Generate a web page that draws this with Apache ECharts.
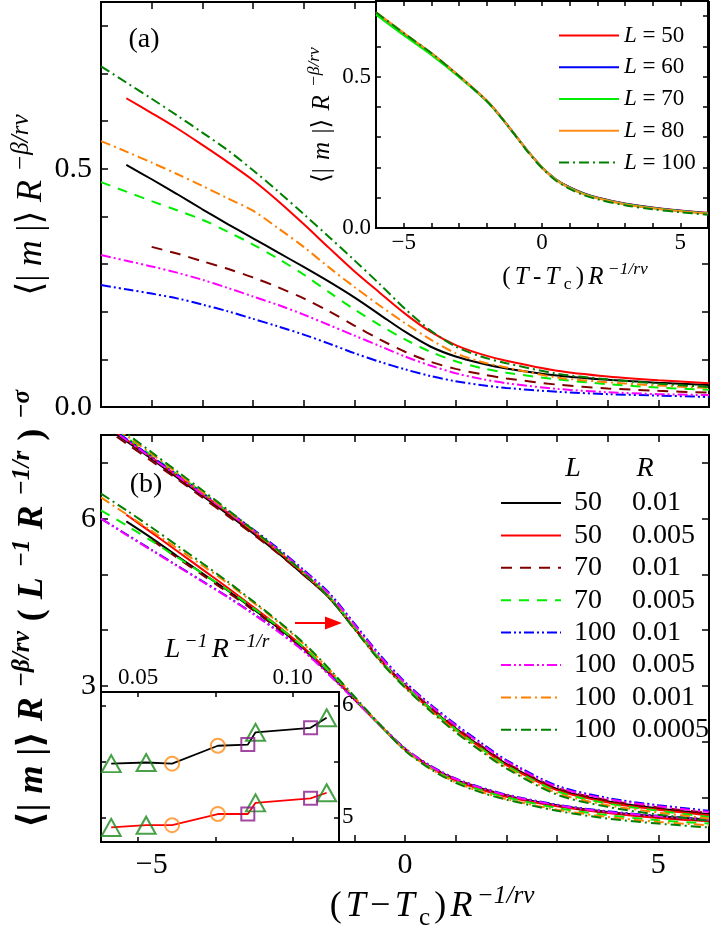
<!DOCTYPE html>
<html><head><meta charset="utf-8">
<script src="https://cdn.jsdelivr.net/npm/echarts@6/dist/echarts.min.js"></script>
<style>html,body{margin:0;padding:0;background:#fff}#c{width:713px;height:934px}</style>
</head><body><div id="c"></div>
<script>
// ---------- data ----------
const xsA = [-6,-5.5,-5,-4.5,-4,-3.5,-3,-2.5,-2,-1.5,-1,-0.5,0,0.5,1,1.5,2,3,4,5,6];
// panel (a)
const aBlack   = [null,0.508,0.478,0.447,0.415,0.384,0.354,0.324,0.294,0.263,0.230,0.194,0.158,0.127,0.106,0.092,0.081,0.066,0.057,0.051,0.046];
const aRed     = [null,0.648,0.617,0.585,0.550,0.514,0.476,0.432,0.384,0.334,0.285,0.240,0.196,0.158,0.130,0.111,0.097,0.076,0.064,0.056,0.050];
const aBrown   = [null,null,0.336,0.322,0.306,0.290,0.272,0.251,0.228,0.201,0.171,0.142,0.116,0.095,0.080,0.069,0.060,0.047,0.039,0.034,0.030];
const aGreen   = [0.472,0.452,0.432,0.413,0.393,0.368,0.341,0.311,0.278,0.241,0.205,0.172,0.142,0.116,0.096,0.082,0.072,0.058,0.048,0.041,0.036];
const aBlue    = [0.256,0.247,0.238,0.228,0.215,0.201,0.185,0.169,0.152,0.133,0.113,0.095,0.079,0.065,0.054,0.046,0.040,0.032,0.027,0.024,0.021];
const aMagenta = [0.319,0.307,0.295,0.282,0.267,0.250,0.232,0.214,0.194,0.172,0.150,0.128,0.106,0.087,0.071,0.059,0.050,0.038,0.031,0.027,0.025];
const aOrange  = [0.558,0.536,0.513,0.489,0.464,0.438,0.412,0.375,0.336,0.293,0.252,0.213,0.176,0.142,0.113,0.095,0.083,0.062,0.052,0.045,0.040];
const aDkgreen = [0.715,0.681,0.647,0.612,0.576,0.539,0.497,0.452,0.405,0.357,0.308,0.258,0.206,0.161,0.127,0.106,0.092,0.070,0.058,0.049,0.042];
// inset of (a)
const xsI = [-6,-5,-4,-3,-2,-1.5,-1,-0.5,0,0.5,1,1.5,2,3,4,5,6];
const iL50  = [0.712,0.643,0.577,0.502,0.421,0.369,0.311,0.253,0.201,0.161,0.135,0.115,0.101,0.081,0.068,0.058,0.050];
const iL60  = [0.711,0.642,0.576,0.501,0.420,0.368,0.310,0.252,0.200,0.160,0.134,0.114,0.100,0.080,0.067,0.057,0.049];
const iL70  = [0.705,0.637,0.572,0.499,0.419,0.368,0.310,0.252,0.200,0.160,0.133,0.113,0.099,0.079,0.066,0.056,0.048];
const iL80  = [0.713,0.645,0.578,0.503,0.421,0.369,0.311,0.252,0.200,0.159,0.132,0.112,0.098,0.078,0.065,0.055,0.047];
const iL100 = [0.713,0.644,0.578,0.502,0.420,0.368,0.310,0.250,0.198,0.157,0.129,0.109,0.095,0.075,0.062,0.052,0.044];
const insetALabels = ['L = 50','L = 60','L = 70','L = 80','L = 100'];
// panel (b) lower family
const bLoBlack   = [null,5.95,5.65,5.33,5.02,4.71,4.38,4.04,3.67,3.23,2.76,2.30,1.86,1.55,1.32,1.16,1.03,0.86,0.74,0.66,0.60];
const bLoRed     = [null,6.07,5.75,5.42,5.09,4.76,4.42,4.07,3.69,3.25,2.77,2.30,1.86,1.54,1.30,1.14,1.01,0.84,0.72,0.63,0.57];
const bLoBrown   = [null,null,5.62,5.30,4.99,4.68,4.36,4.02,3.65,3.22,2.76,2.31,1.87,1.56,1.33,1.17,1.04,0.85,0.73,0.65,0.58];
const bLoGreen   = [6.15,5.88,5.60,5.31,5.02,4.72,4.40,4.06,3.69,3.26,2.78,2.30,1.85,1.53,1.29,1.13,1.00,0.81,0.68,0.59,0.53];
const bLoBlue    = [6.00,5.72,5.44,5.16,4.88,4.60,4.30,3.98,3.63,3.21,2.76,2.31,1.88,1.57,1.34,1.18,1.05,0.87,0.75,0.67,0.61];
const bLoMagenta = [6.00,5.71,5.43,5.15,4.87,4.59,4.29,3.97,3.62,3.20,2.75,2.30,1.87,1.56,1.33,1.17,1.04,0.86,0.74,0.66,0.60];
const bLoOrange  = [6.38,6.08,5.78,5.47,5.16,4.84,4.50,4.14,3.75,3.30,2.80,2.31,1.85,1.52,1.27,1.10,0.97,0.78,0.65,0.56,0.50];
const bLoDkgreen = [6.45,6.15,5.84,5.52,5.20,4.87,4.52,4.16,3.77,3.31,2.81,2.31,1.84,1.51,1.26,1.09,0.96,0.76,0.62,0.53,0.46];
// panel (b) upper (shifted) family
const bUpBlack   = [7.70,7.39,7.07,6.74,6.41,6.08,5.74,5.38,4.99,4.58,4.03,3.47,3.00,2.60,2.24,1.91,1.60,1.15,0.93,0.80,0.70];
const bUpRed     = [7.74,7.42,7.10,6.77,6.44,6.11,5.77,5.41,5.02,4.60,4.04,3.47,2.99,2.58,2.22,1.89,1.58,1.13,0.91,0.78,0.68];
const bUpBrown   = [7.66,7.35,7.03,6.71,6.38,6.05,5.72,5.37,4.99,4.59,4.05,3.49,3.02,2.62,2.26,1.93,1.62,1.17,0.95,0.82,0.72];
const bUpGreen   = [7.78,7.46,7.13,6.80,6.47,6.13,5.79,5.42,5.03,4.61,4.05,3.48,3.00,2.59,2.22,1.88,1.57,1.11,0.89,0.76,0.65];
const bUpBlue    = [7.75,7.43,7.11,6.79,6.46,6.14,5.81,5.46,5.08,4.67,4.12,3.56,3.07,2.67,2.31,1.98,1.67,1.21,0.99,0.86,0.76];
const bUpMagenta = [7.73,7.41,7.09,6.77,6.44,6.12,5.79,5.44,5.06,4.65,4.10,3.54,3.05,2.65,2.29,1.96,1.65,1.19,0.97,0.84,0.74];
const bUpOrange  = [7.82,7.49,7.16,6.82,6.48,6.14,5.79,5.42,5.02,4.59,4.03,3.46,2.98,2.56,2.19,1.85,1.54,1.08,0.86,0.73,0.62];
const bUpDkgreen = [7.86,7.53,7.19,6.85,6.51,6.16,5.80,5.43,5.03,4.59,4.02,3.45,2.97,2.55,2.17,1.83,1.52,1.05,0.83,0.69,0.58];
const legendL = ['50','50','70','70','100','100','100','100'];
const legendR = ['0.01','0.005','0.01','0.005','0.01','0.005','0.001','0.0005'];
// inset of (b)
const insetX     = [0.0413,0.0526,0.0610,0.0758,0.0855,0.0880,0.1058,0.1110];
const insetBlack = [5.48,5.49,5.48,5.64,5.65,5.76,5.80,5.89];
const insetRed   = [4.91,4.93,4.93,5.03,5.03,5.13,5.17,5.22];
const insetShape = ['triangle','triangle','circle','circle','rect','triangle','rect','triangle'];
// tick values / labels
const fullTicks = [-6,-5,-4,-3,-2,-1,0,1,2,3,4,5,6];
const xLabels = [-5,0,5];
const aYTicks = [0,0.1,0.2,0.3,0.4,0.5,0.6,0.7,0.8];
const aYLabels = [0,0.5];
const iaYTicks = [0,0.1,0.2,0.3,0.4,0.5,0.6,0.7];
const bYTicks = [1,2,3,4,5,6,7];
const bYLabels = [3,6];
const ibXTicks = [0.05,0.075,0.10];
const ibXLabels = [0.05,0.10];
const ibYTicks = [5,5.5,6];
const ibYLabels = [5,6];

// ---------- styles ----------
const SERIF = '"Liberation Serif","DejaVu Serif",serif';
const ST = [
  {c:'#000000', t:'solid'},
  {c:'#ff0000', t:'solid'},
  {c:'#800000', t:[11,8]},
  {c:'#00ee00', t:[10,8]},
  {c:'#0000ff', t:[10,3,2,3,2,3]},
  {c:'#ff00ff', t:[10,3,2,3,2,3]},
  {c:'#ff8000', t:[10,4,2,4]},
  {c:'#008000', t:[10,4,2,4]}
];
const MK = {triangle:'#1a8a1a', circle:'#ff8c1a', rect:'#8b1a8b'};

function pairs(xs, ys){ return xs.map((x,i)=>[x, ys[i]]).filter(p=>p[1]!=null); }
const minus = v => v<0 ? '\u2212'+Math.abs(v) : String(v);

function ax(gridIndex, position, min, max, ticks, labels, fmt, fs, tl, margin, z){
  return {
    type:'value', gridIndex, position, min, max, z,
    axisLine:{show:true, onZero:false, lineStyle:{color:'#000', width:2}},
    axisTick:{show:true, inside:true, length:tl, customValues:ticks, lineStyle:{color:'#000', width:1.5}},
    axisLabel: labels ? {show:true, customValues:labels, formatter:fmt, fontSize:fs, fontFamily:SERIF, color:'#000', margin} : {show:false},
    splitLine:{show:false}
  };
}
function line(name, xi, yi, xs, ys, s, z, w){
  return {type:'line', name, xAxisIndex:xi, yAxisIndex:yi, data:pairs(xs,ys), showSymbol:false, symbol:'none',
    smooth:0.3, z, lineStyle:{color:s.c, type:s.t, width:w||2}, itemStyle:{color:s.c}, animation:false};
}

const series = [];
const aSets = [aBlack,aRed,aBrown,aGreen,aBlue,aMagenta,aOrange,aDkgreen];
aSets.forEach((d,k)=>series.push(line('a'+k,0,0,xsA,d,ST[k],2)));
const iSets = [iL50,iL60,iL70,iL80,iL100];
const iStyle = [{c:'#ff0000',t:'solid'},{c:'#0000ff',t:'solid'},{c:'#00ee00',t:'solid'},{c:'#ff8c1a',t:'solid'},{c:'#008000',t:[10,4,2,4]}];
iSets.forEach((d,k)=>series.push(line(insetALabels[k],2,2,xsI,d,iStyle[k],5,2)));
const loSets = [bLoBlack,bLoRed,bLoBrown,bLoGreen,bLoBlue,bLoMagenta,bLoOrange,bLoDkgreen];
const upSets = [bUpBlack,bUpRed,bUpBrown,bUpGreen,bUpBlue,bUpMagenta,bUpOrange,bUpDkgreen];
loSets.forEach((d,k)=>series.push(line(legendL[k]+' '+legendR[k],4,4,xsA,d,ST[k],2)));
upSets.forEach((d,k)=>series.push(line('up'+k,4,4,xsA,d,ST[k],2)));
const ibB = line('ib-black',6,6,insetX,insetBlack,{c:'#000',t:'solid'},5,1.8); ibB.smooth=false; series.push(ibB);
const ibR = line('ib-red',6,6,insetX,insetRed,{c:'#ff0000',t:'solid'},5,1.8); ibR.smooth=false; series.push(ibR);
['triangle','circle','rect'].forEach(sh=>{
  const pts = [];
  insetX.forEach((x,i)=>{ if(insetShape[i]===sh){ pts.push([x,insetBlack[i]]); pts.push([x,insetRed[i]]); } });
  series.push({type:'scatter', name:'m-'+sh, xAxisIndex:6, yAxisIndex:6, data:pts, symbol:sh,
    symbolSize: sh==='triangle'?[19,17]:(sh==='circle'?14:13), z:6, animation:false,
    itemStyle:{color:'rgba(255,255,255,0)', borderColor:MK[sh], borderWidth:2}});
});

// ---------- titles: fit rich text to a target length ----------
const mctx = document.createElement('canvas').getContext('2d');
const SUP = 0.7;
function tokW(t, fs, bold){
  const st = t[0]; const size = (st==='sup'||st==='sub') ? fs*SUP : fs;
  const it = (st==='i'||st==='sup') ? 'italic ' : '';
  mctx.font = it + (bold?'bold ':'') + size + 'px ' + SERIF;
  return mctx.measureText(t[1]).width;
}
function title(x, y, tokens, target, maxFs, opts){
  opts = opts||{};
  const bold = !!opts.bold, base = 20;
  const W = tokens.reduce((s,t)=>s+tokW(t,base,bold),0);
  const fs = Math.min(maxFs, base*target/W);
  const pad = Math.max(0, (target - W*fs/base)/(2*tokens.length));
  const fw = bold?'bold':'normal', lh = fs*1.3, sfs = fs*SUP;
  const P = [0,pad,0,pad];
  const rich = {
    p:{fontSize:fs, fontFamily:SERIF, fontWeight:fw, color:'#000', lineHeight:lh, padding:P},
    i:{fontSize:fs, fontFamily:SERIF, fontStyle:'italic', fontWeight:fw, color:'#000', lineHeight:lh, padding:P},
    sup:{fontSize:sfs, fontFamily:SERIF, fontStyle:'italic', fontWeight:fw, color:'#000', verticalAlign:'top', lineHeight:lh, padding:P},
    sub:{fontSize:sfs, fontFamily:SERIF, fontWeight:fw, color:'#000', verticalAlign:'bottom', lineHeight:lh, padding:P}
  };
  const text = tokens.map(t=>'{'+t[0]+'|'+t[1]+'}').join('');
  return {type:'text', x, y, rotation: opts.rot||0, z:20, silent:true,
    style:{text, rich, fontSize:fs, fontFamily:SERIF, fill:'#000', align:'center', verticalAlign:'middle'}};
}
function plain(x,y,text,fs,italic){
  return {type:'text', x, y, z:20, silent:true,
    style:{text, fontSize:fs, fontFamily:SERIF, fontStyle: italic?'italic':'normal', fill:'#000', align:'center', verticalAlign:'middle'}};
}
const mTok = [['p','\u27E8|'],['i','m'],['p','|\u27E9'],['i','R'],['sup','\u2212\u03B2/r\u03BD']];
const bTok = mTok.concat([['p','('],['i','L'],['sup','\u22121'],['i','R'],['sup','\u22121/r'],['p',')'],['sup','\u2212\u03C3']]);
const xTok = [['p','('],['i','T'],['p','\u2212'],['i','T'],['sub','c'],['p',')'],['i','R'],['sup','\u22121/r\u03BD']];
const xTokI = [['p','('],['i','T'],['p','-'],['i','T'],['sub','c'],['p',')'],['i','R'],['sup','\u22121/r\u03BD']];
const lTok = [['i','L'],['sup','\u22121'],['i','R'],['sup','\u22121/r']];

const graphics = [
  plain(144,40,'(a)',28),
  plain(146,485,'(b)',28),
  title(32,205,mTok,190,36,{rot:Math.PI/2}),
  title(322,115,mTok,144,25,{rot:Math.PI/2}),
  title(575,277,xTokI,150,25),
  title(432,907,xTok,209,36),
  title(33,609,bTok,448,36,{rot:Math.PI/2,bold:true}),
  title(217,650,lTok,109,28),
  plain(573,469,'L',28,true),
  plain(645,469,'R',28,true),
  {type:'line', z:20, silent:true, shape:{x1:295,y1:623,x2:327,y2:623}, style:{stroke:'#ff0000', lineWidth:2}},
  {type:'polygon', z:20, silent:true, shape:{points:[[325,616.5],[342,623],[325,629.5]]}, style:{fill:'#ff0000'}}
];

const option = {
  animation:false,
  backgroundColor:'#fff',
  grid:[
    {left:101, top:2, width:608, height:405, show:true, borderColor:'#000', borderWidth:2, backgroundColor:'rgba(0,0,0,0)', z:1},
    {left:376, top:1, width:332, height:227, show:true, borderColor:'#000', borderWidth:2, backgroundColor:'#fff', z:3},
    {left:101, top:435, width:608, height:407, show:true, borderColor:'#000', borderWidth:2, backgroundColor:'rgba(0,0,0,0)', z:1},
    {left:101, top:692, width:238, height:150, show:true, borderColor:'#000', borderWidth:2, backgroundColor:'#fff', z:3}
  ],
  xAxis:[
    ax(0,'bottom',-6,6,fullTicks,null,null,0,7,0,0),
    ax(0,'top',-6,6,fullTicks,null,null,0,7,0,0),
    ax(1,'bottom',-6,6,fullTicks,xLabels,minus,23,5,3,4),
    ax(1,'top',-6,6,fullTicks,null,null,0,5,0,4),
    ax(2,'bottom',-6,6,fullTicks,xLabels,minus,30,7,8,0),
    ax(2,'top',-6,6,fullTicks,null,null,0,7,0,0),
    ax(3,'top',0.038,0.115,ibXTicks,ibXLabels,v=>v.toFixed(2),23,5,3,4),
    ax(3,'bottom',0.038,0.115,ibXTicks,null,null,0,5,0,4)
  ],
  yAxis:[
    ax(0,'left',0,0.85,aYTicks,aYLabels,v=>v.toFixed(1),30,7,9,0),
    ax(0,'right',0,0.85,aYTicks,null,null,0,7,0,0),
    ax(1,'left',0,0.75,iaYTicks,aYLabels,v=>v.toFixed(1),23,5,5,4),
    ax(1,'right',0,0.75,iaYTicks,null,null,0,5,0,4),
    ax(2,'left',0.2,7.5,bYTicks,bYLabels,v=>String(v),30,7,5,0),
    ax(2,'right',0.2,7.5,bYTicks,null,null,0,7,0,0),
    ax(3,'right',4.78,6.12,ibYTicks,ibYLabels,v=>String(v),23,5,3,4),
    ax(3,'left',4.78,6.12,ibYTicks,null,null,0,5,0,4)
  ],
  legend:[
    {data:insetALabels, orient:'vertical', left:553, top:18, itemWidth:60, itemHeight:14, itemGap:6.75, z:10,
     selectedMode:false, itemStyle:{opacity:0}, formatter:n=>'{i|L}{p| = '+n.split('= ')[1]+'}',
     textStyle:{fontSize:23, lineHeight:25, fontFamily:SERIF, color:'#000',
       rich:{i:{fontSize:23,lineHeight:25,fontFamily:SERIF,fontStyle:'italic',color:'#000'}, p:{fontSize:23,lineHeight:25,fontFamily:SERIF,color:'#000'}}}},
    {data:legendL.map((l,k)=>l+' '+legendR[k]), orient:'vertical', left:495, top:484, itemWidth:60, itemHeight:14, itemGap:4.4, z:10,
     selectedMode:false, itemStyle:{opacity:0}, formatter:n=>{const p=n.split(' '); return '{a|'+p[0]+'}{b|'+p[1]+'}';},
     textStyle:{fontSize:28, lineHeight:28, fontFamily:SERIF, color:'#000',
       rich:{a:{fontSize:28,lineHeight:28,fontFamily:SERIF,color:'#000',width:58,padding:[0,0,0,8]}, b:{fontSize:28,lineHeight:28,fontFamily:SERIF,color:'#000'}}}}
  ],
  graphic: graphics,
  series
};
const chart = echarts.init(document.getElementById('c'), null, {renderer:'canvas'});
chart.setOption(option);
</script></body></html>
